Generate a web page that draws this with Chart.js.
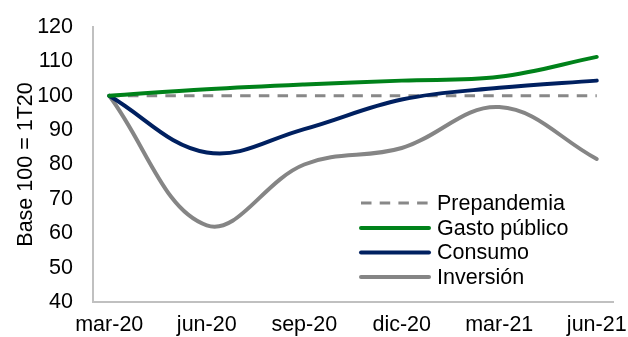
<!DOCTYPE html>
<html>
<head>
<meta charset="utf-8">
<script src="https://cdn.jsdelivr.net/npm/chart.js@4.4.1/dist/chart.umd.min.js"></script>
<style>
  html, body { margin: 0; padding: 0; background: #fff; }
  #wrap { width: 628px; height: 337px; position: relative; }
</style>
</head>
<body>
<div id="wrap"><canvas id="c" width="628" height="337"></canvas></div>
<script>
// Quarterly tick labels (x positions are quarter indices)
const quarters = ['mar-20', 'jun-20', 'sep-20', 'dic-20', 'mar-21', 'jun-21'];

// Index, base 100 = 1T20
const prepandemia = [100, 100, 100, 100, 100, 100];
const gastoPublico = [100, 101.9, 103.3, 104.4, 105.5, 111.3];
const consumo = [100, 83.5, 90.3, 98.9, 102.3, 104.4];
const inversion = [100, 62.3, 80.0, 84.8, 96.7, 81.6];

const seriesNames = ['Prepandemia', 'Gasto público', 'Consumo', 'Inversión'];
const seriesColors = ['#888888', '#00821a', '#002060', '#858585'];

const FONT = "'Liberation Sans', Arial, sans-serif";
const FONT_SIZE = 21.5;

function pts(arr) { return arr.map((v, i) => ({ x: i, y: v })); }

// Legend drawn inside the plot area, lower right
const innerLegend = {
  id: 'innerLegend',
  afterDraw(chart) {
    const ctx = chart.ctx;
    const x0 = 361, x1 = 429, tx = 437;
    const rows = [203, 228, 252.5, 277];
    ctx.save();
    ctx.font = FONT_SIZE + 'px ' + FONT;
    ctx.textBaseline = 'middle';
    ctx.fillStyle = '#000';
    chart.data.datasets.forEach((ds, i) => {
      const y = rows[i];
      ctx.beginPath();
      ctx.strokeStyle = ds.borderColor;
      ctx.lineWidth = ds.borderWidth;
      ctx.lineCap = ds.borderDash ? 'butt' : 'round';
      ctx.setLineDash(ds.borderDash || []);
      ctx.moveTo(x0, y);
      ctx.lineTo(x1, y);
      ctx.stroke();
      ctx.setLineDash([]);
      ctx.fillText(ds.label, tx, y + 1);
    });
    ctx.restore();
  }
};

const common = { fill: false, pointRadius: 0, pointHoverRadius: 0, tension: 0.38, borderCapStyle: 'round' };

new Chart(document.getElementById('c'), {
  type: 'line',
  data: {
    datasets: [
      Object.assign({}, common, { label: seriesNames[0], data: pts(prepandemia), borderColor: seriesColors[0], borderWidth: 3, borderDash: [10.5, 8.2], borderCapStyle: 'butt', tension: 0, order: 4 }),
      Object.assign({}, common, { label: seriesNames[1], data: pts(gastoPublico), borderColor: seriesColors[1], borderWidth: 4, order: 1 }),
      Object.assign({}, common, { label: seriesNames[2], data: pts(consumo), borderColor: seriesColors[2], borderWidth: 4, order: 2 }),
      Object.assign({}, common, { label: seriesNames[3], data: pts(inversion), borderColor: seriesColors[3], borderWidth: 4, order: 3 })
    ]
  },
  options: {
    responsive: false,
    animation: false,
    events: [],
    layout: { padding: { top: 27, right: 15, left: 0, bottom: 0 } },
    plugins: { legend: { display: false }, tooltip: { enabled: false } },
    scales: {
      x: {
        type: 'linear',
        min: -1 / 6,
        max: 5 + 1 / 6,
        grid: { display: false, drawTicks: false },
        border: { display: true, color: '#c0c0c0', width: 2 },
        afterBuildTicks(scale) { scale.ticks = quarters.map((_, i) => ({ value: i })); },
        ticks: {
          autoSkip: false,
          maxRotation: 0,
          padding: 10,
          color: '#000',
          font: { family: FONT, size: FONT_SIZE },
          callback: (v) => quarters[v] !== undefined ? quarters[v] : ''
        },
        afterFit(scale) {
          scale.height = 35;
          scale.paddingLeft = 0;
          scale.paddingRight = 0;
        }
      },
      y: {
        min: 40,
        max: 120,
        grid: { display: false, drawTicks: false },
        border: { display: true, color: '#c0c0c0', width: 2 },
        ticks: {
          stepSize: 10,
          padding: 20,
          color: '#000',
          font: { family: FONT, size: FONT_SIZE }
        },
        title: {
          display: true,
          text: 'Base 100 = 1T20',
          color: '#000',
          font: { family: FONT, size: FONT_SIZE },
          padding: { top: 13, bottom: 0 }
        },
        afterFit(scale) {
          scale.width = 93;
          scale.paddingTop = 0;
          scale.paddingBottom = 0;
        }
      }
    }
  },
  plugins: [innerLegend]
});
</script>
</body>
</html>
